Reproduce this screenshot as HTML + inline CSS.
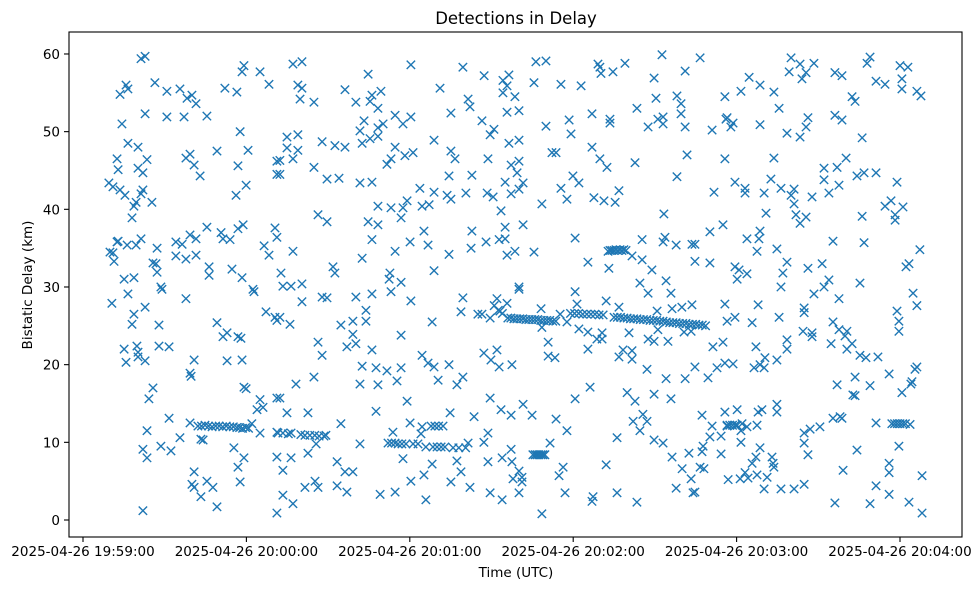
<!DOCTYPE html>
<html>
<head>
<meta charset="utf-8">
<style>
  html, body { margin: 0; padding: 0; background: #ffffff; }
  #chart { display: block; }
  text { font-family: "DejaVu Sans", "Liberation Sans", sans-serif; fill: #000; }
</style>
</head>
<body>
<svg id="chart" width="979" height="590" viewBox="0 0 979 590" xmlns="http://www.w3.org/2000/svg">
  <rect x="0" y="0" width="979" height="590" fill="#ffffff"></rect>
  <text x="516" y="24" font-size="16.5" text-anchor="middle">Detections in Delay</text>
  <g id="marks"></g>
  <g id="axes"></g>
  <text x="516" y="577" font-size="13.5" text-anchor="middle">Time (UTC)</text>
  <text x="0" y="0" font-size="13.5" text-anchor="middle" transform="translate(32,285) rotate(-90)">Bistatic Delay (km)</text>
</svg>
<script>
// seconds since 2025-04-26 19:59:00 UTC
const xTickSeconds = [0, 60, 120, 180, 240, 300];
const xTickLabels = ["2025-04-26 19:59:00", "2025-04-26 20:00:00", "2025-04-26 20:01:00", "2025-04-26 20:02:00", "2025-04-26 20:03:00", "2025-04-26 20:04:00"];
const yTicks = [0, 10, 20, 30, 40, 50, 60];

// [time (s since 19:59:00), bistatic delay (km)]
const detectionsEarly = [
[21.3,59.4],[22.8,59.7],[58.4,57.7],[59.1,58.5],[65.0,57.7],[68.3,56.1],[15.8,56.0],[13.6,54.8],[16.5,55.5],[26.4,56.3],
[30.8,55.2],[35.6,55.5],[38.2,54.3],[40.0,54.7],[41.5,53.6],[52.1,55.6],[56.5,55.1],[14.3,51.0],[22.8,52.3],[30.8,51.9],
[37.1,51.9],[45.5,52.0],[57.7,50.0],[16.5,48.5],[20.2,48.0],[49.2,47.5],[60.6,47.6],[39.3,47.1],[37.8,46.6],[40.8,45.7],
[43.0,44.3],[12.5,46.5],[12.9,45.1],[20.2,45.3],[23.5,46.4],[22.0,44.7],[56.9,45.6],[71.2,46.2],[71.2,44.5],[9.5,43.4],
[11.0,42.9],[13.6,42.5],[15.4,41.8],[22.0,42.5],[21.3,42.0],[25.3,40.9],[19.5,40.9],[18.7,40.4],[18.0,38.9],[59.9,43.1],
[56.2,41.8],[12.5,35.8],[12.9,35.9],[16.2,35.4],[19.5,35.4],[21.3,36.2],[9.9,34.5],[11.0,34.4],[11.4,33.3],[27.2,35.0],
[34.1,35.8],[36.4,35.5],[39.3,36.7],[41.5,36.2],[45.5,37.7],[50.7,37.0],[51.4,36.2],[54.0,36.1],[56.9,37.5],[58.8,38.0],
[70.5,37.6],[71.2,36.4],[66.5,35.3],[68.3,34.1],[34.1,34.0],[37.8,33.6],[41.5,34.1],[25.7,33.1],[26.8,33.0],[27.2,31.9],
[46.3,32.6],[46.3,31.5],[54.7,32.3],[58.4,31.2],[15.1,31.0],[18.7,31.2],[28.6,30.0],[62.4,29.7],
[16.5,29.1],[10.6,27.9],[29.0,29.7],[22.8,27.4],[18.7,26.5],[18.0,25.2],[27.9,25.1],[37.8,28.5],[62.8,29.4],[67.2,26.8],
[70.5,26.1],[71.2,25.7],[49.2,25.4],[52.9,24.1],[51.4,23.6],[56.9,23.6],[58.0,23.4],[15.1,22.0],[19.8,22.4],[20.2,21.6],
[20.2,21.0],[15.8,20.3],[22.8,20.5],[27.9,22.4],[31.6,22.3],[40.8,20.6],[52.9,20.5],[58.4,20.6],[39.3,18.9],[39.7,18.5],
[25.7,17.0],[24.2,15.6],[59.1,17.1],[59.9,16.9],[65.0,15.5],[63.9,14.2],[66.1,14.5],[71.2,15.7],[31.6,13.1],[39.3,12.5],
[42.2,12.1],[43.5,12.1],[44.8,12.2],[46.1,12.1],[47.4,12.0],[48.7,12.1],[50.0,12.1],[51.3,12.0],[52.6,12.1],[53.9,12.0],
[55.2,12.0],[56.5,11.9],[57.5,11.9],[58.6,11.8],[59.7,11.9],[60.8,11.8],[62.0,12.4],[65.0,11.2],
[23.5,11.5],[35.6,10.6],[43.3,10.4],[44.1,10.3],[22.0,9.1],[23.5,8.0],[28.6,9.5],[32.3,8.9],[55.4,9.3],[59.1,8.0],
[56.9,6.8],[57.7,4.9],[40.8,6.2],[40.0,4.6],[40.8,4.2],[45.5,5.0],[47.7,4.2],[43.3,3.0],[49.2,1.7],[22.0,1.2],
[71.2,0.9],[71.2,11.3],[71.2,8.1]
];

const detectionsMid = [
[77.1,58.7],[80.4,59.0],[104.7,57.4],[120.4,58.6],[139.5,58.3],[78.9,56.0],[80.4,55.6],[79.7,54.2],[84.8,53.8],[96.2,55.4],
[100.2,53.8],[106.1,54.7],[109.4,55.2],[105.4,53.9],[108.3,53.0],[131.1,55.6],[141.4,54.2],[142.1,53.2],[135.1,52.4],[114.6,52.1],
[120.4,51.9],[117.5,51.0],[103.2,51.4],[101.7,50.1],[108.3,50.5],[110.2,51.0],[105.4,49.1],[108.3,49.4],[102.5,48.5],[74.9,49.3],
[78.9,49.6],[74.9,47.9],[78.9,47.6],[77.1,46.5],[72.3,46.3],[72.3,44.5],[87.8,48.7],[92.5,48.2],[96.2,48.0],[128.9,48.9],
[135.1,47.5],[136.6,46.5],[114.6,48.0],[118.2,46.9],[121.2,47.3],[113.1,46.5],[111.6,45.8],[84.8,45.4],[89.6,43.9],[94.0,44.0],
[101.7,43.4],[106.1,43.5],[134.4,44.3],[142.8,44.4],[123.7,42.7],[128.9,42.2],[133.7,41.8],[135.1,41.3],[140.6,42.1],[108.3,40.4],
[113.1,40.2],[117.5,40.2],[119.0,41.1],[116.8,38.9],[124.5,40.4],[127.1,40.6],[86.3,39.3],[89.6,38.4],[104.7,38.4],[108.3,38.0],
[125.2,37.2],[142.8,37.2],[106.1,36.1],[120.1,35.8],[126.7,35.4],[142.5,35.0],[77.1,34.6],[114.6,34.6],[134.4,34.2],[102.5,33.7],
[91.8,32.6],[92.5,31.8],[112.7,31.8],[112.4,31.0],[116.8,30.6],[128.9,32.1],[72.7,31.8],[73.4,30.1],[76.4,30.1],[80.4,30.4],
[113.1,29.4],[80.4,28.1],[87.8,28.7],[89.6,28.6],[100.2,28.7],[106.1,29.1],[120.4,28.2],[139.5,28.6],[138.8,26.8],[145.0,26.5],
[72.3,26.1],[76.0,25.2],[103.9,27.0],[94.7,25.1],[99.1,25.6],[103.9,25.6],[99.1,23.9],[96.9,22.3],[100.2,22.7],[106.1,21.9],
[116.8,23.8],[128.2,25.5],[86.3,22.9],[87.8,21.2],[84.8,18.4],[78.2,17.5],[102.5,19.8],[107.6,19.6],[111.6,19.2],[116.8,19.6],
[115.3,17.9],[101.7,17.5],[108.3,17.4],[124.5,21.2],[126.7,20.2],[128.9,19.7],[134.4,20.0],[130.4,18.0],[139.5,18.4],[137.3,17.4],
[72.3,15.7],[74.9,13.8],[82.6,13.8],[94.7,12.4],[107.6,14.0],[119.0,15.3],[134.8,13.8],[143.6,13.3],[120.1,12.5],[124.5,12.0],
[127.8,12.1],[129.2,12.1],[130.6,12.1],[132.2,12.1],[113.8,11.3],[124.1,11.1],[71.6,11.2],[73.4,11.2],[75.4,11.1],[76.4,11.2],
[80.0,11.0],[81.5,10.9],[83.3,10.9],[85.1,10.9],[86.7,10.8],[88.5,10.8],[89.2,10.9],[85.6,9.8],[82.6,8.6],[101.7,9.8],
[112.0,9.9],[113.3,9.9],[114.6,9.9],[115.7,9.8],[117.1,9.8],[118.6,9.8],[121.2,9.8],[123.0,9.8],[125.9,9.4],[128.5,9.4],
[130.0,9.4],[131.5,9.4],[132.9,9.4],[135.9,9.3],[138.0,9.3],[140.5,9.3],[141.4,9.9],[76.4,8.0],[73.4,6.4],[93.3,7.5],
[96.2,6.2],[99.1,6.2],[85.2,5.0],[86.3,4.2],[81.5,4.2],[93.3,4.4],[96.9,3.6],[73.4,3.2],[77.1,2.1],[109.1,3.3],
[114.6,3.6],[117.5,7.9],[120.4,5.0],[125.2,5.8],[128.2,7.2],[125.9,2.6],[135.1,4.9],[138.8,6.2],[137.3,7.6],[142.1,4.2]
];

const detectionsLate = [
[147.3,57.2],[154.2,56.6],[156.4,57.3],[155.7,55.9],[154.2,55.0],[158.6,54.5],[166.3,59.0],[170.0,59.1],[165.6,56.3],[175.5,56.1],
[182.9,55.9],[189.1,58.7],[189.8,58.3],[190.2,57.5],[194.6,57.7],[199.0,58.8],[212.6,59.9],[226.6,59.5],[209.7,56.9],[221.1,57.8],
[210.4,54.3],[218.1,54.6],[219.6,53.6],[235.7,54.5],[155.7,52.5],[160.1,52.7],[146.5,51.4],[150.9,50.3],[149.5,49.6],[156.4,48.5],
[160.1,48.9],[170.0,50.7],[178.5,51.5],[179.2,49.7],[186.9,52.3],[193.5,51.6],[193.5,51.1],[203.4,53.0],[207.5,50.6],[211.1,51.6],
[213.0,51.9],[213.0,51.0],[219.6,52.3],[221.1,50.6],[231.0,50.2],[236.1,51.6],[148.7,46.5],[157.2,45.7],[160.1,46.2],[159.4,44.7],
[172.2,47.3],[173.7,47.3],[186.9,48.0],[189.8,46.5],[192.4,45.4],[202.7,46.0],[221.8,47.0],[235.7,46.5],[155.0,43.5],[161.6,43.4],
[160.1,42.6],[157.2,42.0],[148.4,42.1],[150.6,41.6],[179.9,44.3],[182.1,43.4],[175.5,42.7],[177.7,41.3],[187.6,41.5],[191.3,41.1],
[195.4,40.9],[196.8,42.4],[218.1,44.2],[231.7,42.2],[153.5,39.8],[168.5,40.7],[213.3,39.4],[235.0,38.0],[230.2,37.1],[155.0,37.7],
[161.6,38.0],[148.0,35.8],[152.8,36.1],[155.0,36.2],[180.7,36.3],[158.6,34.6],[155.7,34.1],[165.6,34.5],[205.3,36.1],[213.7,36.4],
[213.0,35.8],[217.8,35.4],[223.6,35.5],[224.7,35.5],[201.6,34.0],[205.3,33.5],[208.9,32.2],[224.7,33.3],[230.2,33.1],[185.4,33.2],
[193.1,32.4],[192.8,34.6],[193.5,34.7],[194.2,34.7],[195.0,34.7],[195.7,34.8],[196.4,34.7],[197.2,34.8],[197.9,34.7],[198.6,34.8],
[199.4,34.7],[204.5,30.5],[214.1,30.8],[160.1,30.0],[160.1,29.7],[180.7,29.4],[207.5,29.2],[215.9,29.2],[152.0,28.5],[155.7,27.9],
[153.1,26.9],[149.5,26.0],[146.5,26.5],[168.2,27.2],[181.4,27.8],[192.1,28.2],[196.8,27.4],[210.8,26.9],[216.3,27.2],[219.9,27.4],
[223.6,27.7],[235.7,27.8],[236.5,25.6],[175.2,26.5],[177.7,25.5],[168.5,24.8],[182.1,24.6],[185.4,24.2],[188.7,23.3],[190.6,24.1],
[190.6,23.3],[200.5,24.1],[211.1,24.5],[220.7,24.2],[223.3,24.3],[207.5,23.3],[209.7,23.0],[214.8,23.0],[170.8,22.9],[185.4,22.0],
[231.3,22.3],[235.0,22.9],[235.7,20.2],[232.8,19.6],[147.2,21.5],[152.0,21.9],[149.8,20.6],[152.8,19.7],[157.5,20.0],[170.8,21.1],
[173.3,20.9],[198.3,21.9],[201.6,21.8],[196.8,21.0],[201.6,20.7],[207.1,19.4],[224.7,19.7],[214.1,18.2],[221.1,18.2],[229.5,18.3],
[186.2,17.1],[180.7,15.6],[199.8,16.4],[202.7,15.3],[209.7,16.2],[215.9,15.6],[149.5,15.7],[153.5,14.2],[161.6,14.9],[157.2,13.5],
[164.9,13.5],[173.7,13.0],[177.7,11.5],[205.6,13.6],[202.0,12.7],[207.1,12.7],[204.5,11.5],[227.3,13.5],[235.7,13.9],[231.0,12.1],
[236.5,12.1],[148.7,11.2],[147.2,10.0],[157.2,9.1],[171.5,9.9],[196.1,10.6],[209.7,10.3],[213.0,9.9],[230.2,10.7],[234.3,10.8],
[227.7,9.5],[227.3,8.8],[222.5,8.6],[234.3,8.5],[216.3,8.1],[165.2,8.4],[166.0,8.4],[166.7,8.4],[167.4,8.4],[168.2,8.4],
[168.9,8.4],[169.6,8.4],[148.7,7.5],[153.9,8.0],[157.5,7.5],[160.1,6.3],[157.9,5.3],[161.2,5.5],[161.2,4.9],[176.3,6.8],
[174.8,5.7],[192.1,7.1],[220.0,6.6],[226.6,6.8],[228.0,6.6],[223.3,5.3],[236.9,5.2],[149.5,3.5],[153.9,2.6],[160.1,3.5],
[177.0,3.5],[187.3,3.0],[186.9,2.4],[196.1,3.5],[203.4,2.3],[217.8,4.1],[224.0,3.5],[224.7,3.6],[168.5,0.8],
[151.0,27.6],[152.5,27.0],[154.0,26.6],[156.0,26.0],[157.1,26.0],[158.2,25.9],[159.3,25.9],[160.4,25.9],[161.5,25.9],[162.6,25.8],
[163.7,25.8],[164.8,25.8],[165.9,25.8],[167.0,25.8],[168.1,25.7],[169.2,25.7],[170.3,25.7],[171.4,25.7],[172.5,25.6],[173.6,25.6],
[179.0,26.6],[180.5,26.6],[182.0,26.6],[183.5,26.5],[185.0,26.5],[186.5,26.5],[188.0,26.5],[189.5,26.4],[191.0,26.4],
[195.0,26.1],[196.2,26.1],[197.4,26.1],[198.6,26.0],[199.8,26.0],[201.0,25.9],[202.2,25.9],[203.4,25.9],[204.6,25.8],[205.8,25.8],
[207.0,25.8],[208.2,25.7],[209.4,25.7],[210.6,25.7],[211.8,25.6],[213.0,25.6],[214.2,25.5],[215.4,25.4],[216.6,25.4],[217.8,25.4],
[219.0,25.3],[220.2,25.3],[221.4,25.3],[222.6,25.2],[223.8,25.2],[225.0,25.2],[226.2,25.1],[227.4,25.1],[228.6,25.0]
];

const detectionsFinal = [
[241.6,55.2],[244.6,57.0],[248.6,56.0],[253.7,55.1],[255.6,53.0],[260.0,59.5],[263.3,58.7],[268.4,58.8],[259.3,57.7],[265.5,57.6],
[264.0,56.8],[276.1,57.6],[278.7,57.2],[282.4,54.5],[283.5,53.9],[287.9,58.8],[289.0,59.6],[291.2,56.5],[294.5,56.1],[300.0,58.5],
[302.9,58.3],[300.7,56.8],[300.7,55.5],[306.2,55.2],[307.7,54.6],[236.5,51.8],[238.7,51.1],[237.9,50.6],[248.6,50.9],[258.5,49.8],
[263.3,49.3],[265.5,50.6],[266.2,51.8],[276.1,52.1],[278.7,51.5],[286.1,49.2],[253.7,46.6],[272.1,45.3],[276.9,45.4],[280.2,46.6],
[284.2,44.3],[286.8,44.7],[291.2,44.7],[298.9,43.5],[239.4,43.5],[243.1,42.7],[243.1,42.1],[250.1,42.1],[252.6,43.9],[256.3,42.7],
[260.0,41.8],[261.1,42.6],[261.1,40.7],[267.7,41.6],[272.1,43.8],[273.9,42.1],[277.6,43.1],[250.8,39.5],[261.8,39.3],[265.5,39.0],
[263.3,38.2],[286.1,39.1],[294.5,40.4],[296.7,41.1],[301.1,40.3],[298.2,39.3],[298.2,38.6],[248.6,37.2],[243.8,36.2],[248.2,36.2],
[247.5,34.6],[254.8,34.9],[275.4,35.9],[286.8,35.7],[307.3,34.8],[239.4,32.6],[240.9,32.2],[243.8,31.7],[240.2,31.0],[258.5,33.2],
[257.0,31.8],[266.2,32.4],[271.4,33.0],[302.2,32.6],[303.3,33.0],[273.9,30.9],[285.3,30.5],[256.3,30.0],[272.1,30.0],
[268.4,29.1],[277.6,28.5],[304.8,29.2],[306.2,27.6],[298.9,26.9],[299.6,25.6],[299.6,24.3],[247.9,27.7],[239.4,26.1],[245.7,25.4],
[255.6,26.1],[264.8,27.3],[264.8,26.7],[275.4,25.5],[264.4,24.3],[267.7,24.1],[267.7,23.6],[277.6,24.5],[280.5,24.3],[279.8,23.7],
[247.1,22.3],[258.5,23.2],[258.5,22.0],[274.7,22.7],[282.4,22.7],[280.5,22.0],[285.3,21.2],[287.5,20.9],[291.9,21.0],[238.7,20.1],
[246.4,19.6],[248.6,20.0],[250.4,20.9],[250.1,19.6],[254.8,20.6],[283.5,18.4],[296.0,18.8],[306.2,19.7],[305.5,19.4],[276.9,17.4],
[289.0,17.3],[304.4,17.8],[304.0,17.5],[300.7,16.4],[282.7,16.1],[283.5,16.0],[240.2,14.2],[247.9,13.9],[249.3,14.2],[254.8,14.9],
[254.8,13.9],[275.4,13.1],[278.0,13.3],[278.7,13.1],[291.2,12.5],[236.5,12.2],[237.5,12.2],[238.5,12.2],[239.5,12.2],[240.2,12.2],
[242.0,12.4],[243.8,12.0],[247.5,12.2],[241.6,11.5],[264.8,11.2],[267.0,11.7],[270.6,12.0],[297.0,12.4],[298.0,12.4],[299.0,12.4],
[300.0,12.4],[301.0,12.4],[302.0,12.4],[303.7,12.3],[241.6,10.0],[264.8,9.9],[299.6,9.5],[284.2,9.0],[248.6,9.3],[266.2,8.4],
[247.1,8.1],[245.7,7.3],[253.0,8.1],[253.4,7.3],[253.7,6.8],[279.1,6.4],[296.0,7.3],[296.0,6.1],[308.1,5.7],[243.1,6.1],
[241.3,5.3],[244.2,5.4],[247.5,5.8],[251.2,5.5],[250.1,4.0],[256.3,4.0],[261.1,4.0],[264.8,4.6],[291.2,4.4],[296.0,3.3],
[276.1,2.2],[289.0,2.1],[303.3,2.3],[308.1,0.9]
];

const NS = "http://www.w3.org/2000/svg";
const plot = { left: 69, right: 962, top: 32, bottom: 537 };
const xOrigin = 83, xPerSec = 163.4 / 60;
const yZero = 520, yPerKm = 7.767;
function xScale(t) { return xOrigin + t * xPerSec; }
function yScale(km) { return yZero - km * yPerKm; }

const marks = document.getElementById('marks');
const color = "#1f77b4";
const r = 4.2;
[detectionsEarly, detectionsMid, detectionsLate, detectionsFinal].forEach(function (series) {
  series.forEach(function (d) {
    const cx = xScale(d[0]), cy = yScale(d[1]);
    const p = document.createElementNS(NS, 'path');
    p.setAttribute('d', 'M' + (cx - r) + ' ' + (cy - r) + 'L' + (cx + r) + ' ' + (cy + r) + 'M' + (cx - r) + ' ' + (cy + r) + 'L' + (cx + r) + ' ' + (cy - r));
    p.setAttribute('stroke', color);
    p.setAttribute('stroke-width', '1.4');
    p.setAttribute('fill', 'none');
    
    
    marks.appendChild(p);
  });
});

const axes = document.getElementById('axes');
const frame = document.createElementNS(NS, 'rect');
frame.setAttribute('x', plot.left);
frame.setAttribute('y', plot.top);
frame.setAttribute('width', plot.right - plot.left);
frame.setAttribute('height', plot.bottom - plot.top);
frame.setAttribute('fill', 'none');
frame.setAttribute('stroke', '#000');
frame.setAttribute('stroke-width', '1.1');


axes.appendChild(frame);

xTickSeconds.forEach(function (t, i) {
  const x = xScale(t);
  const tk = document.createElementNS(NS, 'line');
  tk.setAttribute('x1', x); tk.setAttribute('x2', x);
  tk.setAttribute('y1', plot.bottom); tk.setAttribute('y2', plot.bottom + 5);
  tk.setAttribute('stroke', '#000'); tk.setAttribute('stroke-width', '1.1');
  
  
  axes.appendChild(tk);
  const lb = document.createElementNS(NS, 'text');
  lb.setAttribute('x', x); lb.setAttribute('y', 556);
  lb.setAttribute('font-size', '13.5'); lb.setAttribute('text-anchor', 'middle');
  lb.textContent = xTickLabels[i];
  
  
  axes.appendChild(lb);
});

yTicks.forEach(function (v) {
  const y = yScale(v);
  const tk = document.createElementNS(NS, 'line');
  tk.setAttribute('x1', plot.left - 5); tk.setAttribute('x2', plot.left);
  tk.setAttribute('y1', y); tk.setAttribute('y2', y);
  tk.setAttribute('stroke', '#000'); tk.setAttribute('stroke-width', '1.1');
  
  
  axes.appendChild(tk);
  const lb = document.createElementNS(NS, 'text');
  lb.setAttribute('x', plot.left - 9); lb.setAttribute('y', y + 5);
  lb.setAttribute('font-size', '13.5'); lb.setAttribute('text-anchor', 'end');
  lb.textContent = String(v);
  
  
  axes.appendChild(lb);
});
</script>
</body>
</html>
